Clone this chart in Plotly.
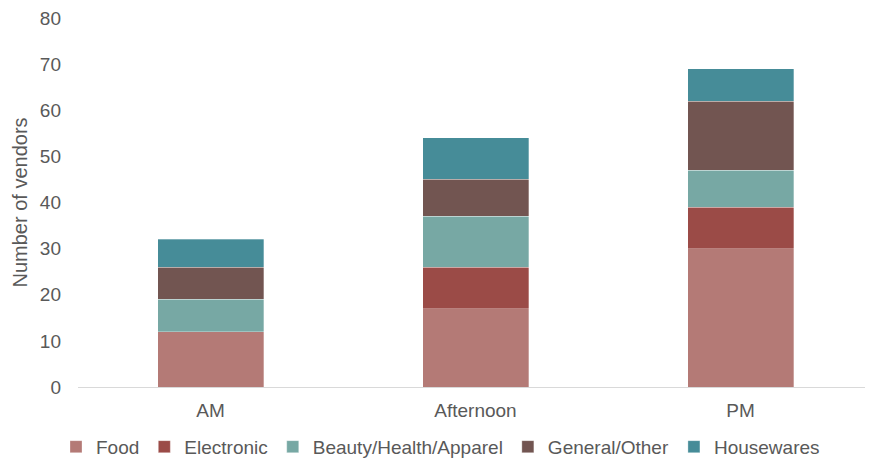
import plotly.graph_objects as go

categories = ["AM", "Afternoon", "PM"]
food = [12, 17, 30]
electronic = [0, 9, 9]
beauty = [7, 11, 8]
general = [7, 8, 15]
housewares = [6, 9, 7]

series = [
    ("Food", food, "#B47A76"),
    ("Electronic", electronic, "#9B4B47"),
    ("Beauty/Health/Apparel", beauty, "#77A8A4"),
    ("General/Other", general, "#725551"),
    ("Housewares", housewares, "#468C98"),
]

fig = go.Figure()
for name, vals, col in series:
    fig.add_trace(go.Bar(x=categories, y=vals, name=name, marker_color=col,
                         marker_line_width=0.5, marker_line_color="rgba(255,255,255,0.6)",
                         width=0.4))

fig.update_layout(
    width=865, height=459,
    barmode="stack",
    plot_bgcolor="white", paper_bgcolor="white",
    margin=dict(l=70, r=0, t=10, b=80, autoexpand=False),
    font=dict(family="Liberation Sans, Arial, sans-serif", size=19, color="#595959"),
    xaxis=dict(showline=True, linecolor="#D9D9D9", linewidth=1, ticks="",
               tickfont=dict(size=19, color="#595959"), automargin=False,
               ticklabelstandoff=6),
    yaxis=dict(range=[0, 80], dtick=10, showgrid=False, zeroline=False, automargin=False,
               tickfont=dict(size=19, color="#595959"), ticklabelstandoff=16,
               ticklabeloverflow="allow",
               title=dict(text="Number of vendors", font=dict(size=20, color="#595959"), standoff=6)),
    legend=dict(orientation="h", xref="container", x=0.5, xanchor="center",
                yref="container", y=0.044, yanchor="middle",
                traceorder="normal", font=dict(size=19, color="#595959"),
                itemwidth=30),
    showlegend=True,
)

fig.write_html("out.html")
